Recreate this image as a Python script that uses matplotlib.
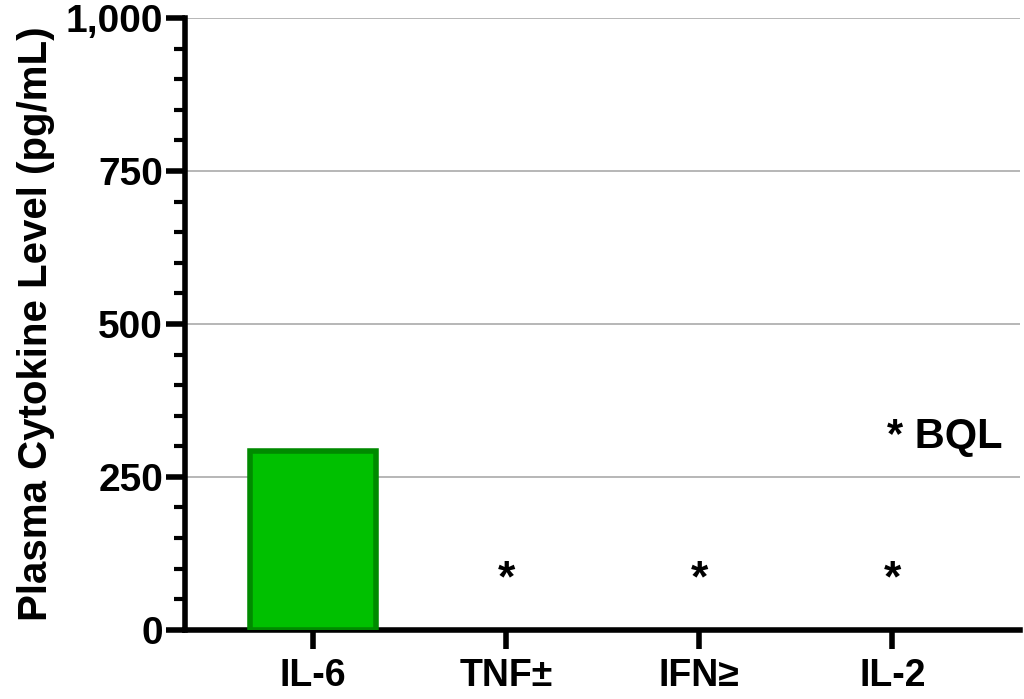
import matplotlib.pyplot as plt
from matplotlib.ticker import MultipleLocator, FuncFormatter

plt.rcParams['font.family'] = ['Liberation Sans', 'DejaVu Sans']
plt.rcParams['font.weight'] = 'bold'

cytokines = ['IL-6', 'TNF±', 'IFN≥', 'IL-2']
levels = [292, 0, 0, 0]
bql = [False, True, True, True]
bql_mark_level = 82

fig = plt.figure(figsize=(10.24, 6.99), dpi=100)
ax = fig.add_axes([0.181, 0.099, 0.815, 0.875])

x = list(range(len(cytokines)))
# only draw measurable bars (BQL ones have no bar)
bx = [i for i in x if levels[i] > 0]
bh = [levels[i] for i in bx]
ax.bar(bx, bh, width=0.65, color='#00C000', edgecolor='#008A00', linewidth=4, zorder=3)

# BQL markers
for i, flag in enumerate(bql):
    if flag:
        ax.text(i, bql_mark_level, '*', ha='center', va='center', fontsize=32, fontweight='bold')
ax.text(0.91, 0.315, '* BQL', transform=ax.transAxes, ha='center', va='center',
        fontsize=30, fontweight='bold')

ax.set_xlim(-0.66, 3.66)
ax.set_ylim(0, 1000)
ax.yaxis.set_major_locator(MultipleLocator(250))
ax.yaxis.set_minor_locator(MultipleLocator(50))
ax.yaxis.set_major_formatter(FuncFormatter(lambda v, p: f'{int(v):,}'))
ax.set_xticks(x)
ax.set_xticklabels(cytokines)

ax.grid(axis='y', which='major', color='#aaaaaa', linewidth=1.2, zorder=0)
for s in ['top', 'right']:
    ax.spines[s].set_visible(False)
for s in ['left', 'bottom']:
    ax.spines[s].set_linewidth(4)

ax.tick_params(axis='y', which='major', length=14, width=4, labelsize=28, pad=2)
ax.tick_params(axis='y', which='minor', length=8, width=3)
ax.tick_params(axis='x', which='major', length=14, width=4, labelsize=27, pad=6)

ax.set_ylabel('Plasma Cytokine Level (pg/mL)', fontsize=29, fontweight='bold', labelpad=8)

fig.savefig('out.png', dpi=100)
